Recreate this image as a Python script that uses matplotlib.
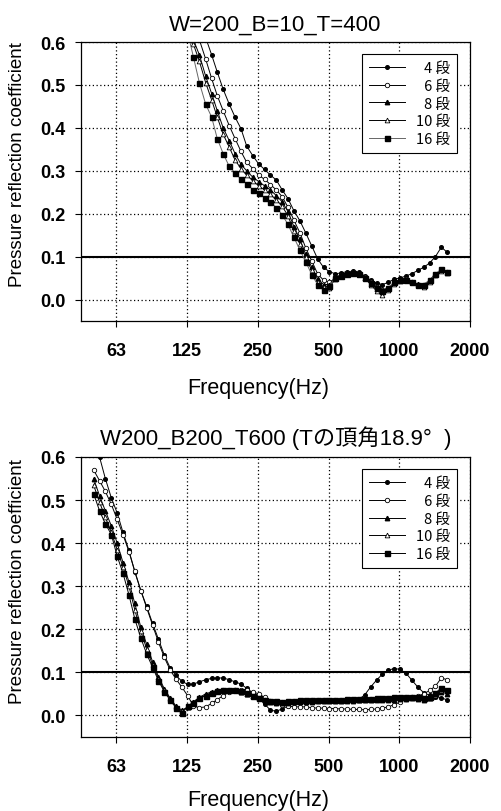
import matplotlib
matplotlib.use("Agg")
import matplotlib.pyplot as plt
import numpy as np

# Frequency axis (Hz), 1/12-octave steps
freq = [50, 53, 56.1, 59.5, 63, 66.7, 70.7, 74.9, 79.4, 84.1, 89.1, 94.4,
        100, 106, 112, 119, 126, 133, 141, 150, 159, 168, 178, 189,
        200, 212, 224, 238, 252, 267, 283, 300, 317, 336, 356, 378,
        400, 424, 449, 476, 504, 534, 566, 599, 635, 673, 713, 755,
        800, 848, 898, 951, 1008, 1068, 1131, 1199, 1270, 1345, 1425, 1510, 1600]

series_labels = ["\u20074 段", "\u20076 段", "\u20078 段", "10 段", "16 段"]

# ---- Top chart: W=200_B=10_T=400 (data from 119 Hz = freq[15:]) ----
top_freq = freq[15:]
top_4 = [0.76, 0.71, 0.675, 0.645, 0.61, 0.57, 0.53, 0.49, 0.455,
         0.425, 0.398, 0.358, 0.335, 0.316, 0.303, 0.29, 0.278, 0.256, 0.235, 0.207, 0.183,
         0.155, 0.125, 0.095, 0.075, 0.065, 0.06, 0.062, 0.065, 0.066, 0.063, 0.055, 0.045,
         0.038, 0.035, 0.04, 0.048, 0.05, 0.055, 0.06, 0.068, 0.075, 0.085, 0.1, 0.122, 0.11]
top_6 = [0.72, 0.67, 0.635, 0.605, 0.56, 0.515, 0.475, 0.44, 0.405,
         0.375, 0.345, 0.32, 0.305, 0.29, 0.28, 0.268, 0.255, 0.24, 0.215, 0.185, 0.155,
         0.12, 0.09, 0.06, 0.045, 0.04, 0.05, 0.058, 0.062, 0.063, 0.06, 0.052, 0.04,
         0.03, 0.022, 0.028, 0.038, 0.045, 0.047, 0.042, 0.035, 0.033, 0.043, 0.058, 0.068, 0.065]
top_8 = [0.70, 0.65, 0.605, 0.57, 0.52, 0.48, 0.44, 0.40, 0.37,
         0.34, 0.315, 0.30, 0.285, 0.275, 0.265, 0.255, 0.242, 0.228, 0.205, 0.17, 0.14,
         0.105, 0.075, 0.048, 0.035, 0.035, 0.05, 0.058, 0.062, 0.063, 0.06, 0.05, 0.037,
         0.025, 0.018, 0.027, 0.038, 0.045, 0.046, 0.042, 0.036, 0.034, 0.045, 0.06, 0.068, 0.063]
top_10 = [0.69, 0.64, 0.595, 0.555, 0.505, 0.465, 0.425, 0.385, 0.355,
          0.325, 0.305, 0.29, 0.277, 0.265, 0.255, 0.245, 0.232, 0.218, 0.195, 0.16, 0.13,
          0.098, 0.068, 0.04, 0.03, 0.028, 0.048, 0.057, 0.062, 0.063, 0.06, 0.05, 0.035,
          0.02, 0.01, 0.022, 0.036, 0.044, 0.046, 0.041, 0.034, 0.03, 0.042, 0.058, 0.067, 0.062]
top_16 = [0.68, 0.62, 0.565, 0.505, 0.455, 0.425, 0.375, 0.34, 0.31,
          0.295, 0.28, 0.27, 0.256, 0.248, 0.237, 0.227, 0.214, 0.198, 0.175, 0.145, 0.115,
          0.088, 0.058, 0.035, 0.022, 0.032, 0.05, 0.055, 0.06, 0.062, 0.06, 0.05, 0.038,
          0.028, 0.02, 0.028, 0.04, 0.045, 0.045, 0.04, 0.035, 0.035, 0.045, 0.06, 0.07, 0.065]

# ---- Bottom chart: W200_B200_T600 ----
bot_4 = [0.65, 0.60, 0.55, 0.505, 0.47, 0.425, 0.383, 0.333, 0.29, 0.253, 0.214, 0.177,
         0.14, 0.11, 0.093, 0.079, 0.072, 0.073, 0.078, 0.083, 0.086, 0.087, 0.087, 0.083,
         0.078, 0.073, 0.063, 0.052, 0.04, 0.027, 0.012, 0.01, 0.015, 0.022, 0.028, 0.032,
         0.034, 0.035, 0.035, 0.034, 0.033, 0.033, 0.033, 0.033, 0.034, 0.037, 0.048, 0.066,
         0.082, 0.096, 0.105, 0.109, 0.107, 0.098, 0.082, 0.066, 0.053, 0.047, 0.044, 0.041, 0.036]
bot_6 = [0.57, 0.545, 0.52, 0.49, 0.455, 0.42, 0.38, 0.335, 0.29, 0.25, 0.21, 0.17,
         0.135, 0.105, 0.085, 0.065, 0.045, 0.022, 0.018, 0.02, 0.028, 0.037, 0.046, 0.054,
         0.059, 0.06, 0.058, 0.055, 0.05, 0.042, 0.034, 0.028, 0.024, 0.022, 0.02, 0.02,
         0.02, 0.018, 0.017, 0.017, 0.016, 0.016, 0.015, 0.015, 0.014, 0.014, 0.013, 0.014,
         0.015, 0.017, 0.02, 0.025, 0.031, 0.038, 0.042, 0.045, 0.05, 0.058, 0.068, 0.087, 0.083]
bot_8 = [0.55, 0.51, 0.475, 0.44, 0.40, 0.355, 0.31, 0.26, 0.205, 0.165, 0.125, 0.09,
         0.062, 0.04, 0.022, 0.012, 0.02, 0.032, 0.042, 0.05, 0.055, 0.058, 0.06, 0.06,
         0.058, 0.055, 0.05, 0.045, 0.04, 0.035, 0.032, 0.03, 0.03, 0.03, 0.031, 0.032,
         0.032, 0.032, 0.033, 0.033, 0.033, 0.033, 0.034, 0.034, 0.034, 0.035, 0.035, 0.035,
         0.036, 0.036, 0.037, 0.037, 0.038, 0.039, 0.04, 0.039, 0.037, 0.04, 0.045, 0.055, 0.05]
bot_10 = [0.535, 0.495, 0.46, 0.425, 0.385, 0.345, 0.30, 0.245, 0.195, 0.155, 0.118, 0.085,
          0.058, 0.038, 0.02, 0.01, 0.02, 0.03, 0.04, 0.047, 0.053, 0.057, 0.06, 0.06,
          0.058, 0.055, 0.05, 0.045, 0.04, 0.036, 0.033, 0.031, 0.031, 0.032, 0.033, 0.034,
          0.034, 0.035, 0.035, 0.035, 0.036, 0.036, 0.036, 0.037, 0.037, 0.037, 0.038, 0.038,
          0.038, 0.039, 0.04, 0.04, 0.041, 0.042, 0.043, 0.042, 0.038, 0.04, 0.048, 0.06, 0.056]
bot_16 = [0.515, 0.475, 0.445, 0.42, 0.37, 0.33, 0.28, 0.224, 0.18, 0.143, 0.112, 0.081,
          0.055, 0.035, 0.018, 0.006, 0.022, 0.03, 0.04, 0.046, 0.052, 0.057, 0.06, 0.06,
          0.059, 0.056, 0.052, 0.046, 0.041, 0.037, 0.034, 0.033, 0.032, 0.033, 0.034, 0.035,
          0.036, 0.036, 0.037, 0.037, 0.037, 0.037, 0.037, 0.038, 0.038, 0.038, 0.039, 0.039,
          0.04, 0.04, 0.041, 0.042, 0.043, 0.044, 0.044, 0.043, 0.04, 0.042, 0.052, 0.064, 0.06]

xticks = [62.5, 125, 250, 500, 1000, 2000]
xtick_labels = ["63", "125", "250", "500", "1000", "2000"]
yticks = [0.0, 0.1, 0.2, 0.3, 0.4, 0.5, 0.6]
ytick_labels = ["0.0", "0.1", "0.2", "0.3", "0.4", "0.5", "0.6"]

titles = ["W=200_B=10_T=400", "W200_B200_T600 (Tの頂角18.9°  )"]

styles = [
    dict(marker="o", ms=2.6, mfc="black", mec="black"),
    dict(marker="o", ms=3.2, mfc="white", mec="black", mew=0.6),
    dict(marker="^", ms=3.2, mfc="black", mec="black"),
    dict(marker="^", ms=3.4, mfc="white", mec="black", mew=0.6),
    dict(marker="s", ms=3.6, mfc="black", mec="black"),
]

LAT = ["Liberation Sans", "Noto Sans CJK JP"]
CJK = ["Noto Sans CJK JP", "Liberation Sans"]

fig = plt.figure(figsize=(5.02, 8.12), dpi=100)
ax_top = fig.add_axes([81/502, 1-322/812, 389/502, 279/812])
ax_bot = fig.add_axes([81/502, 1-738/812, 389/502, 280/812])

datasets = [
    (top_freq, [top_4, top_6, top_8, top_10, top_16]),
    (freq, [bot_4, bot_6, bot_8, bot_10, bot_16]),
]
ylabel_y = [0.563, 0.557]
xlabel_y = [-0.2, -0.186]

for i, (ax, (fx, ys)) in enumerate(zip([ax_top, ax_bot], datasets)):
    for j, (y, lab, st) in enumerate(zip(ys, series_labels, styles)):
        lc = "black"
        if i == 0 and j == 4:
            lc = "#666666"
        ax.plot(fx, y, color=lc, lw=0.7, label=lab, **st)
    ax.axhline(0.1, color="black", lw=1.5, zorder=1)
    ax.set_xscale("log", base=2)
    ax.set_xlim(62.5 / np.sqrt(2), 2000)
    ax.set_ylim(-0.05, 0.6)
    ax.set_xticks(xticks)
    ax.set_xticklabels(xtick_labels)
    ax.xaxis.set_minor_locator(matplotlib.ticker.NullLocator())
    ax.set_yticks(yticks)
    ax.set_yticklabels(ytick_labels)
    for lbl in ax.get_xticklabels() + ax.get_yticklabels():
        lbl.set_family(LAT)
        lbl.set_fontsize(13)
        lbl.set_fontweight("bold")
    ax.tick_params(direction="out", length=4, width=0.8, pad=7)
    ax.tick_params(axis="x", pad=11)
    ax.grid(True, which="major", color="black", linestyle=(0, (1, 2)), lw=0.9)
    for s in ax.spines.values():
        s.set_linewidth(0.9)
    ax.set_xlabel("Frequency(Hz)", family=LAT, fontsize=15.5)
    ax.xaxis.set_label_coords(0.455, xlabel_y[i])
    ax.set_ylabel("Pressure reflection coefficient", family=LAT, fontsize=13.5)
    ax.yaxis.set_label_coords(-0.142, ylabel_y[i])
    ax.set_title(titles[i], family=LAT, fontsize=16, pad=9)
    leg = ax.legend(loc="upper right", bbox_to_anchor=(0.967, 0.957), frameon=True,
                    fancybox=False, framealpha=1, edgecolor="black",
                    prop={"family": CJK, "size": 10.5}, handlelength=2.5,
                    labelspacing=0.25, handletextpad=0.7, borderpad=0.5,
                    borderaxespad=0.0, markerfirst=True)
    leg.get_frame().set_linewidth(0.8)

fig.savefig("out.png", dpi=100)
